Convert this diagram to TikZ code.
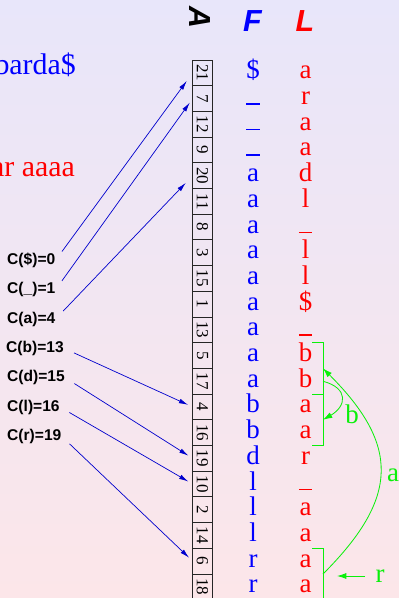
\documentclass[tikz,border=0pt]{standalone}
\usepackage{fontspec}
\setmainfont{Liberation Serif}
\setsansfont{Liberation Sans}
\usepackage{graphicx}
\usetikzlibrary{arrows.meta, positioning, calc}
\definecolor{fblue}{RGB}{0, 0, 255}
\definecolor{lred}{RGB}{255, 0, 0}
\definecolor{sgreen}{RGB}{10, 240, 10}
\definecolor{cblue}{RGB}{0, 0, 205}
\definecolor{bgtop}{RGB}{232, 230, 250}
\definecolor{bgbot}{RGB}{252, 230, 233}
\newcommand{\blank}{\rule{0.5em}{0.055em}}

\begin{document}
\begin{tikzpicture}[x=0.03cm, y=-0.03cm,
      sabox/.style={draw=black!85, line width=0.7pt,
                    minimum width=0.588cm, minimum height=0.771cm,
                    inner sep=0pt, outer sep=0pt,
                    font=\fontsize{14.5}{16}\selectfont},
      fch/.style ={anchor=base, inner sep=0pt, text=fblue,
                   font=\fontsize{23}{26}\selectfont},
      lch/.style ={fch, text=lred},
      head/.style={font=\fontsize{26}{28}\sffamily\bfseries\itshape\selectfont},
      cnt/.style ={anchor=base west, inner sep=0pt,
                   font=\fontsize{13.3}{15}\sffamily\bfseries\selectfont},
      carr/.style={-{Latex[length=2.8mm,width=1.4mm]}, cblue, line width=0.6pt,
                   shorten <=3.3mm, shorten >=1.5mm},
      srch/.style={sgreen, line width=0.7pt},
      sarr/.style={srch, -{Latex[length=2.8mm,width=1.8mm]}},
      slbl/.style={text=sgreen, inner sep=0pt, font=\fontsize{23}{26}\selectfont},
    ]
      \useasboundingbox (0,0) rectangle (399,598);
      \shade[top color=bgtop, bottom color=bgbot] (0,0) rectangle (399,598);

      \node[anchor=base east, inner sep=0pt, text=fblue,
            font=\fontsize{25.5}{28}\selectfont] (txt) at (76,75) {alabar a la alabarda\$};
      \node[anchor=base east, inner sep=0pt, text=lred,
            font=\fontsize{25.5}{28}\selectfont] (bwt) at (75,176.7) {araadl ll\$ bbaar aaaa};

      \node[head, rotate=-90]  (hA) at (200,18)   {A};
      \node[head, text=fblue]  (hF) at (252.5,21) {F};
      \node[head, text=lred]   (hL) at (305,21)   {L};

      % suffix array with first and last columns
      \foreach \sv/\fc/\lc [count=\i] in {21/\$/a, 7/\blank/r, 12/\blank/a, 9/\blank/a,
          20/a/d, 11/a/l, 8/a/\blank, 3/a/l, 15/a/l, 1/a/\$, 13/a/\blank, 5/a/b,
          17/a/b, 4/b/a, 16/b/a, 19/d/r, 10/l/\blank, 2/l/a, 14/l/a, 6/r/a, 18/r/a} {
        \node[sabox] (sa\i) at (202.5,{47.15+25.7*\i}) {\rotatebox{-90}{\sv}};
        \node[fch]   (f\i)  at (253,{53.15+25.7*\i})   {\fc};
        \node[lch]   (l\i)  at (305.5,{53.15+25.7*\i}) {\lc};
      }

      \node[cnt] (cdol) at (7,264.5) {C(\$)=0};
      \node[cnt] (cbl)  at (7,293.8) {C(\_)=1};
      \node[cnt] (ca)   at (7,323.1) {C(a)=4};
      \node[cnt] (cb)   at (6,352.4) {C(b)=13};
      \node[cnt] (cd)   at (7,381.7) {C(d)=15};
      \node[cnt] (cl)   at (7,411)   {C(l)=16};
      \node[cnt] (cr)   at (7,440.3) {C(r)=19};
      \draw[carr, shorten >=3mm] (cdol.east) -- (sa1.west);
      \draw[carr]                (cbl.east)  -- (sa2.west);
      \draw[carr, shorten >=3mm] (ca.east)   -- (sa5.west);
      \draw[carr]                (cb.east)   -- (sa14.west);
      \draw[carr]                (cd.east)   -- (sa16.west);
      \draw[carr]                (cl.east)   -- (sa17.west);
      \draw[carr]                (cr.east)   -- (sa20.west);

      % backward search steps
      \coordinate (brL) at (312,0);
      \coordinate (brR) at (323,0);
      \draw[srch] (sa12.north -| brL) -- (sa12.north -| brR)
                  -- (sa15.south -| brR) -- (sa15.south -| brL);
      \draw[srch] (sa14.north -| brL) -- (sa14.north -| brR);
      \draw[srch] (sa20.north -| brL) -- (sa20.north -| brR)
                  -- (sa21.south -| brR) -- (sa21.south -| brL);
      \node[slbl] (alab) at (393,475) {a};
      \node[slbl] (blab) at (352,414) {b};
      \node[slbl] (rlab) at (380,576) {r};
      \draw[sarr] (sa20.south -| brR) to[out=45, in=-45, looseness=1.35] (sa12.south -| brR);
      \draw[sarr] (sa13 -| brR) to[out=-15, in=30, looseness=1.8] (sa15.north -| brR);
      \draw[sarr, shorten <=3mm, shorten >=4.2mm] (rlab.west) -- (rlab.west -| brR);
    \end{tikzpicture}
\end{document}
